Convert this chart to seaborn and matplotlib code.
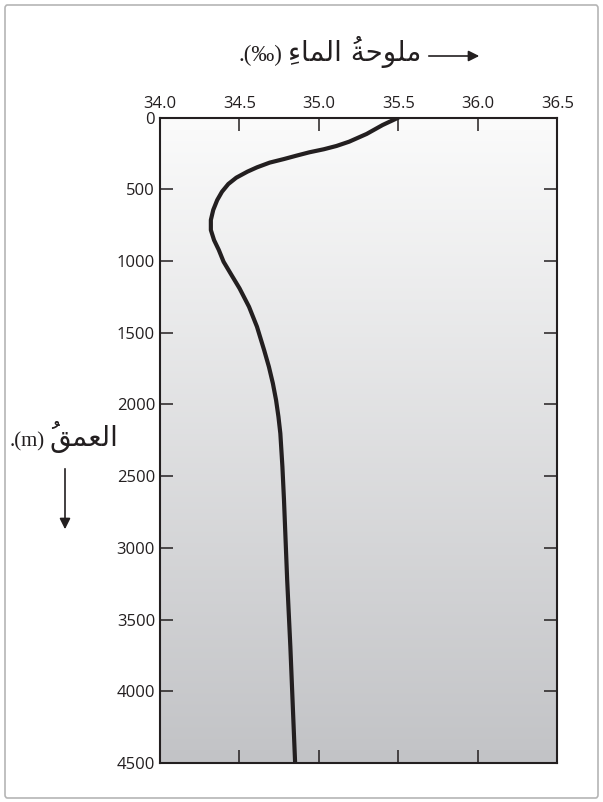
import numpy as np
import pandas as pd
import matplotlib
matplotlib.use("Agg")
import matplotlib.pyplot as plt
from matplotlib.patches import FancyBboxPatch, FancyArrowPatch
import seaborn as sns

# ---- data ----
depth_m = [0, 52, 114, 168, 198, 221, 242, 265, 289, 314, 347, 377, 419, 463,
           517, 575, 644, 714, 784, 854, 923, 1005, 1098, 1190, 1319, 1458,
           1621, 1737, 1853, 1969, 2085, 2202, 2434, 2667, 3224, 3689, 4500]
salinity = [35.50, 35.40, 35.30, 35.19, 35.11, 35.03, 34.94, 34.86, 34.78, 34.69,
            34.61, 34.55, 34.48, 34.43, 34.39, 34.36, 34.335, 34.32, 34.32, 34.34,
            34.37, 34.40, 34.45, 34.50, 34.56, 34.61, 34.655, 34.685, 34.71, 34.73,
            34.745, 34.757, 34.77, 34.78, 34.80, 34.82, 34.85]
x_ticks = [34.0, 34.5, 35.0, 35.5, 36.0, 36.5]
x_tick_labels = ["34.0", "34.5", "35.0", "35.5", "36.0", "36.5"]
y_ticks = [0, 500, 1000, 1500, 2000, 2500, 3000, 3500, 4000, 4500]
y_tick_labels = [str(v) for v in y_ticks]

# Arabic labels, pre-shaped (presentation forms, visual left-to-right order)
title_arabic = ("\u0650\uFE80\uFE8E\uFEE4\uFEDF\uFE8D "
                "\u064F\uFE94\uFEA3\uFEEE\uFEE0\uFEE3")
title_latin = ".(\u2030)"
ylabel_arabic = "\u064F\uFED6\uFEE4\uFECC\uFEDF\uFE8D"
ylabel_latin = ".(m)"

df = pd.DataFrame({"depth": depth_m, "salinity": salinity})

sns.set_style("white")
plt.rcParams["font.family"] = ["Open Sans", "DejaVu Sans"]

fig = plt.figure(figsize=(6.03, 8.02), dpi=100)
ax = fig.add_axes([0.2653, 0.0486, 0.6592, 0.8048])

# background gradient (light at top, grey at bottom)
grad = np.linspace(0, 1, 256).reshape(-1, 1)
cmap = matplotlib.colors.LinearSegmentedColormap.from_list("g", ["#fbfbfb", "#c2c3c6"])
ax.imshow(grad, extent=[0, 1, 0, 1], origin="upper", transform=ax.transAxes,
          aspect="auto", cmap=cmap, zorder=0, interpolation="bicubic")

sns.lineplot(data=df, x="salinity", y="depth", sort=False, estimator=None,
             color="#231f20", linewidth=3.0, ax=ax, zorder=3)
for ln in ax.get_lines():
    ln.set_solid_joinstyle("round")
    ln.set_solid_capstyle("round")

ax.set_xlim(34.0, 36.5)
ax.set_ylim(4500, 0)
ax.set_xticks(x_ticks)
ax.set_xticklabels(x_tick_labels)
ax.set_yticks(y_ticks)
ax.set_yticklabels(y_tick_labels)
ax.set_xlabel("")
ax.set_ylabel("")

ax.tick_params(axis="x", which="both", direction="in", length=9.5, width=1.1,
               color="#231f20", top=True, bottom=True, labeltop=True,
               labelbottom=False, labelsize=12, pad=4, labelcolor="#231f20")
ax.tick_params(axis="y", which="both", direction="in", length=9.5, width=1.1,
               color="#231f20", left=True, right=True, labelleft=True,
               labelright=False, labelsize=12, pad=3.5, labelcolor="#231f20")
for s in ax.spines.values():
    s.set_visible(True)
    s.set_linewidth(1.5)
    s.set_color("#231f20")

H = 802.0
W = 603.0

# title: Arabic part anchored at its right edge, Latin part to its left
t_ar = fig.text(421 / W, 1 - 61 / H, title_arabic, ha="right", va="baseline",
                fontsize=20, family="DejaVu Sans", color="#231f20")
ax.annotate(title_latin, xy=(0, 1 - 61 / H), xycoords=(t_ar, "figure fraction"),
            xytext=(-4, 0), textcoords="offset points", ha="right", va="baseline",
            fontsize=16.5, family=["Liberation Serif", "DejaVu Sans"],
            color="#231f20", annotation_clip=False)
fig.add_artist(FancyArrowPatch(
    (426 / W, 1 - 56 / H), (482 / W, 1 - 56 / H),
    transform=fig.transFigure, arrowstyle="-|>", mutation_scale=16,
    lw=1.2, color="#231f20"))

# y label
y_ar = fig.text(118 / W, 1 - 446 / H, ylabel_arabic, ha="right", va="baseline",
                fontsize=20, family="DejaVu Sans", color="#231f20")
ax.annotate(ylabel_latin, xy=(0, 1 - 446 / H), xycoords=(y_ar, "figure fraction"),
            xytext=(-3, 0), textcoords="offset points", ha="right", va="baseline",
            fontsize=15, family=["Liberation Serif", "DejaVu Sans"],
            color="#231f20", annotation_clip=False)
fig.add_artist(FancyArrowPatch(
    (65 / W, 1 - 466 / H), (65 / W, 1 - 532 / H),
    transform=fig.transFigure, arrowstyle="-|>", mutation_scale=16,
    lw=1.2, color="#231f20"))

# outer frame
frame = FancyBboxPatch((5 / W, 4 / H), 593 / W, 793 / H,
                       boxstyle="round,pad=0,rounding_size=0.004",
                       transform=fig.transFigure, fill=False,
                       edgecolor="#b5b5b5", linewidth=1.2)
fig.add_artist(frame)

fig.savefig("out.png", dpi=100)
